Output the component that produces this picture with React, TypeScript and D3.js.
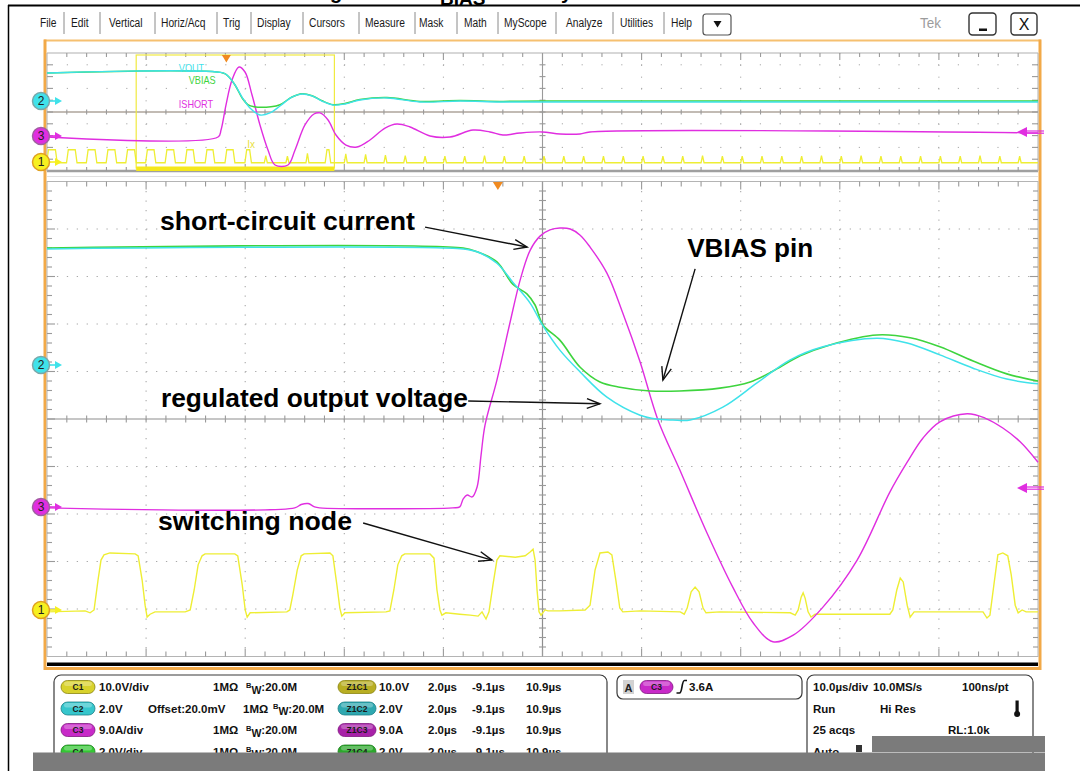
import React from "react";
import * as d3 from "d3";

type P = [number, number];

// ---------- zoom window (main screen): time in µs, amplitude in divisions from centre ----------
const mainVout: P[] = [
  [-9.1, 3.58], [-0.70, 3.58], [-0.42, 3.52], [-0.02, 3.28], [0.30, 2.88], [0.65, 2.44], [0.91, 1.96],
  [1.25, 1.45], [1.66, 0.99], [2.20, 0.46], [2.87, 0.08], [3.20, 0.0], [3.53, -0.02], [3.88, -0.02],
  [4.54, 0.25], [5.23, 0.76], [5.89, 1.24], [6.56, 1.52], [7.65, 1.70], [8.26, 1.60], [8.92, 1.35],
  [9.59, 1.07], [10.27, 0.84], [10.9, 0.74],
];
const mainVbias: P[] = [
  [-9.1, 3.60], [-0.70, 3.60], [-0.42, 3.52], [-0.02, 3.31], [0.30, 2.84], [0.59, 2.63], [0.75, 2.40],
  [0.91, 1.98], [1.25, 1.66], [1.66, 1.09], [2.06, 0.78], [2.46, 0.67], [3.07, 0.59], [3.67, 0.59],
  [4.48, 0.65], [5.09, 0.78], [5.59, 1.03], [6.10, 1.33], [6.70, 1.56], [7.65, 1.77], [8.32, 1.71],
  [8.92, 1.52], [9.59, 1.22], [10.27, 0.95], [10.9, 0.80],
];
const mainIshort: P[] = [
  [-9.1, -1.87], [-4.1, -1.87], [-3.97, -1.80], [-3.83, -1.78], [-3.70, -1.85], [-3.6, -1.87],
  [-0.91, -1.87], [-0.77, -1.85], [-0.70, -1.68], [-0.62, -1.60], [-0.52, -1.64], [-0.42, -1.43],
  [-0.34, -0.76], [-0.26, -0.13], [-0.02, 0.82], [0.24, 2.01], [0.45, 2.93], [0.65, 3.55], [0.85, 3.85],
  [1.05, 3.98], [1.25, 4.02], [1.46, 4.00], [1.66, 3.87], [1.86, 3.62], [2.20, 3.07], [2.52, 2.23],
  [2.87, 1.20], [3.23, -0.02], [3.67, -1.07], [4.22, -2.40], [4.74, -3.54], [5.15, -4.29], [5.55, -4.69],
  [5.96, -4.55], [6.56, -3.96], [7.25, -2.97], [7.91, -1.54], [8.26, -0.91], [8.58, -0.40], [8.92, -0.06],
  [9.47, 0.11], [9.83, 0.02], [10.19, -0.19], [10.54, -0.48], [10.9, -0.91],
];
const mainSw: P[] = [
  [-9.10, -4.06], [-8.33, -4.04], [-8.23, -4.08], [-8.15, -4.02], [-8.07, -3.39], [-8.01, -2.97], [-7.95, -2.86],
  [-7.83, -2.82], [-7.32, -2.84], [-7.26, -2.88], [-7.18, -3.39], [-7.12, -3.92], [-7.08, -4.17], [-7.02, -4.11], [-6.92, -4.06],
  [-6.31, -4.06], [-6.21, -4.02], [-6.13, -3.60], [-6.05, -3.07], [-5.97, -2.88], [-5.91, -2.84], [-5.31, -2.84],
  [-5.25, -2.88], [-5.16, -3.49], [-5.10, -4.02], [-5.06, -4.17], [-5.00, -4.08],
  [-4.26, -4.06], [-4.20, -4.02], [-4.14, -3.71], [-4.05, -3.18], [-3.97, -2.88], [-3.91, -2.84], [-3.39, -2.82],
  [-3.33, -2.88], [-3.25, -3.49], [-3.19, -3.98], [-3.15, -4.15], [-3.09, -4.08],
  [-2.26, -4.06], [-2.18, -4.04], [-2.10, -3.60], [-2.02, -3.07], [-1.94, -2.88], [-1.88, -2.84], [-1.37, -2.84],
  [-1.29, -2.93], [-1.23, -3.60], [-1.17, -4.02], [-1.13, -4.13], [-1.05, -4.08],
  [-0.77, -4.11], [-0.56, -4.13], [-0.40, -4.15], [-0.32, -4.06], [-0.24, -4.21], [-0.18, -4.06], [-0.10, -3.49],
  [-0.02, -2.97], [0.04, -2.88], [0.35, -2.91], [0.55, -2.88], [0.65, -2.80], [0.71, -2.74], [0.75, -2.97],
  [0.79, -3.60], [0.83, -4.06], [0.87, -4.13], [0.95, -4.02],
  [1.01, -4.04], [1.25, -4.04], [1.76, -4.02], [1.86, -3.92], [1.96, -3.18], [2.06, -2.82], [2.22, -2.80],
  [2.30, -2.86], [2.38, -3.39], [2.46, -3.98], [2.52, -4.06], [2.87, -4.04],
  [3.68, -4.06], [3.76, -4.11], [3.82, -3.98], [3.90, -3.64], [3.98, -3.54], [4.06, -3.64], [4.14, -3.98], [4.20, -4.08], [4.48, -4.06],
  [5.90, -4.08], [6.00, -4.13], [6.06, -4.02], [6.12, -3.75], [6.16, -3.66], [6.20, -3.77], [6.26, -4.06], [6.32, -4.17], [6.40, -4.11],
  [7.91, -4.11], [7.97, -4.02], [8.05, -3.60], [8.12, -3.35], [8.18, -3.43], [8.26, -3.92], [8.32, -4.17], [8.40, -4.06],
  [9.79, -4.06], [9.87, -4.19], [9.93, -4.13], [10.01, -3.49], [10.09, -2.86], [10.19, -2.82], [10.29, -2.88],
  [10.36, -3.28], [10.44, -3.92], [10.50, -4.08], [10.58, -4.02], [10.66, -4.06], [10.90, -4.06],
];

// ---------- overview (top strip): time in µs, amplitude in divisions ----------
const topVout: P[] = [
  [-18.1, 3.31], [-0.34, 3.31], [0.16, 3.05], [0.87, 2.29], [1.58, 1.27], [2.38, 0.34], [3.39, -0.25],
  [4.40, -0.08], [5.41, 0.51], [6.62, 1.27], [7.63, 1.53], [8.64, 1.36], [9.65, 0.93], [10.76, 0.59],
  [11.97, 0.68], [13.48, 1.02], [16.21, 1.19], [19.54, 0.85], [23.58, 0.93], [27.61, 0.85], [31.85, 0.85], [81.9, 0.85],
];
const topVbias: P[] = [
  [-18.1, 3.31], [-0.34, 3.31], [0.16, 3.05], [0.87, 2.29], [1.58, 1.2], [2.2, 0.6], [2.8, 0.45], [4.5, 0.45],
  [5.41, 0.62], [6.62, 1.27], [7.63, 1.55], [8.64, 1.38], [9.65, 0.95], [10.76, 0.62], [11.97, 0.72],
  [13.48, 1.05], [16.21, 1.22], [19.54, 0.9], [23.58, 0.97], [27.61, 0.9], [31.85, 0.93], [81.9, 0.93],
];
const topIshort: P[] = [
  [-18.1, -2.12], [-0.84, -2.12], [-0.54, -1.53], [-0.04, 0.59], [0.57, 2.71], [1.27, 3.81], [1.88, 3.39],
  [2.59, 1.44], [3.39, -1.10], [4.20, -3.22], [4.91, -4.49], [6.22, -4.49], [6.93, -3.22], [7.93, -1.10],
  [8.84, -0.17], [9.45, -0.08], [10.26, -0.68], [11.06, -1.95], [12.07, -2.80], [13.18, -2.97], [14.49, -2.37],
  [16.01, -1.36], [17.22, -1.02], [18.53, -1.27], [20.55, -2.03], [22.57, -2.12], [24.89, -1.53], [26.60, -1.69],
  [27.91, -1.95], [29.63, -1.78], [31.85, -1.69], [33.67, -1.86], [35.69, -1.86], [36.69, -1.69], [81.9, -1.78],
];
const topSwLow = -4.3;
const topSwHigh = -3.2;
const topSwPulses: P[] = [
  [-18.05, -17.15], [-16.05, -15.15], [-14.05, -13.15], [-12.05, -11.15], [-10.07, -9.17], [-8.07, -7.2],
  [-6.1, -5.22], [-4.08, -3.25], [-2.06, -1.25], [-0.06, 0.78], [1.95, 2.45], [10.05, 10.45],
];
const topSwSpikes: P[] = [
  [3.98, -3.7], [6.16, -3.75], [8.18, -3.5], [12.05, -3.55], [14.05, -3.6], [16.05, -3.65], [18.05, -3.7],
  [20.05, -3.75], [22.05, -3.75], [24.05, -3.75], [26.05, -3.7], [28.05, -3.75], [30.05, -3.75], [32.05, -3.75],
  [34.05, -3.75], [36.05, -3.75], [38.05, -3.75], [40.05, -3.75], [42.05, -3.75], [44.05, -3.75], [46.05, -3.75],
  [48.05, -3.7], [50.05, -3.75], [52.05, -3.75], [54.05, -3.75], [56.05, -3.75], [58.05, -3.75], [60.05, -3.7],
  [62.05, -3.75], [64.05, -3.7], [66.05, -3.75], [68.05, -3.75], [70.05, -3.75], [72.05, -3.75], [74.05, -3.75],
  [76.05, -3.7], [78.05, -3.75], [80.05, -3.75],
];

// ---------- text content ----------
const menuLabels = ["File", "Edit", "Vertical", "Horiz/Acq", "Trig", "Display", "Cursors", "Measure", "Mask", "Math", "MyScope", "Analyze", "Utilities", "Help"];
const traceLabels = ["VOUT", "VBIAS", "ISHORT"];
const annotations = ["short-circuit current", "VBIAS pin", "regulated output voltage", "switching node"];
const chanBadges = ["C1", "C2", "C3", "C4"];
const chanScale = ["10.0V/div", "2.0V", "9.0A/div", "2.0V/div"];
const zoomBadges = ["Z1C1", "Z1C2", "Z1C3", "Z1C4"];
const zoomScale = ["10.0V", "2.0V", "9.0A", "2.0V"];
const zoomTimes = ["2.0µs", "-9.1µs", "10.9µs"];
const acqRows = [["10.0µs/div", "10.0MS/s", "100ns/pt"], ["Run", "Hi Res", ""], ["25 acqs", "", "RL:1.0k"], ["Auto", "", ""]];

// ---------- layout (not data) ----------
const menuLeft = [40, 71, 109, 161, 223, 257, 309, 365, 419, 464, 504, 566, 620, 671];
const menuSeps = [64, 100, 155, 217, 251, 303, 359, 415, 457, 498, 556, 613, 664];
// annotation anchors in main-window data units (µs, div)
const annText: P[] = [[-6.82, 3.98], [3.82, 3.41], [-6.80, 0.25], [-6.86, -2.34]];
const annWidth = [255, 126, 307, 194];
const annArrows: [P, P][] = [
  [[-1.47, 4.04], [0.59, 3.62]],
  [[3.98, 3.16], [3.33, 0.82]],
  [[-0.60, 0.38], [2.06, 0.32]],
  [[-2.72, -2.19], [-0.12, -2.97]],
];

const CYAN = "#3fe2ea";
const GREEN = "#3ed43e";
const MAGENTA = "#e02ee0";
const YELLOW = "#eeee34";
const ORANGE = "#f2a948";
const FONT = "Arial, 'Liberation Sans', Helvetica, sans-serif";

export default function App() {
  const gx = d3.scaleLinear().domain([0, 10]).range([47, 1038]);
  const gyM = d3.scaleLinear().domain([0, 10]).range([181.5, 656.5]);
  const gyT = d3.scaleLinear().domain([0, 10]).range([53, 171]);
  const xM = d3.scaleLinear().domain([-9.1, 10.9]).range([47, 1038]);
  const yM = d3.scaleLinear().domain([-5, 5]).range([656.5, 181.5]);
  const xT = d3.scaleLinear().domain([-18.1, 81.9]).range([47, 1038]);
  const yT = d3.scaleLinear().domain([-5, 5]).range([171, 53]);

  const smooth = d3.curveCatmullRom.alpha(0.5);
  const smoothM = d3.line<P>().x((d) => xM(d[0])).y((d) => yM(d[1])).curve(smooth);
  const linM = d3.line<P>().x((d) => xM(d[0])).y((d) => yM(d[1]));
  const smoothT = d3.line<P>().x((d) => xT(d[0])).y((d) => yT(d[1])).curve(smooth);
  const linT = d3.line<P>().x((d) => xT(d[0])).y((d) => yT(d[1]));

  // build the overview switching-node trace from the read pulses and spikes
  const swEvents: P[][] = [];
  topSwPulses.forEach(([r, f]) =>
    swEvents.push([[r - 0.08, topSwLow], [r + 0.1, topSwHigh], [f - 0.1, topSwHigh], [f + 0.08, topSwLow]])
  );
  topSwSpikes.forEach(([t, p]) => swEvents.push([[t - 0.15, topSwLow], [t, p], [t + 0.15, topSwLow]]));
  swEvents.sort((a, b) => a[0][0] - b[0][0]);
  const topSw: P[] = [[-18.1, topSwLow], ...swEvents.flat(), [81.9, topSwLow]];

  const minor50 = d3.range(1, 50).map((i) => i / 5);
  const majors = d3.range(1, 10);
  const gridC = "#a8a8a8";
  const tickC = "#9a9a9a";

  const mainGrid: any[] = [];
  majors.filter((k) => k !== 5).forEach((k) => {
    mainGrid.push(<line key={"mh" + k} x1={gx(0)} x2={gx(10)} y1={gyM(k)} y2={gyM(k)} stroke={gridC} strokeWidth={1.1} strokeDasharray="1.3 8.61" />);
    mainGrid.push(<line key={"mv" + k} x1={gx(k)} x2={gx(k)} y1={gyM(0)} y2={gyM(10)} stroke={gridC} strokeWidth={1.1} strokeDasharray="1.3 8.2" />);
  });
  mainGrid.push(<line key="mch" x1={gx(0)} x2={gx(10)} y1={gyM(5)} y2={gyM(5)} stroke="#8e8e8e" strokeWidth={1.2} />);
  mainGrid.push(<line key="mcv" x1={gx(5)} x2={gx(5)} y1={gyM(0)} y2={gyM(10)} stroke="#8e8e8e" strokeWidth={1.2} />);
  mainGrid.push(<rect key="mborder" x={gx(0)} y={gyM(0)} width={gx(10) - gx(0)} height={gyM(10) - gyM(0)} fill="none" stroke="#b4b4b4" strokeWidth={1} />);
  minor50.forEach((u, i) => {
    const major = Number.isInteger(Math.round(u * 1000) / 1000);
    const lx = major ? 8 : 5;
    mainGrid.push(<line key={"tt" + i} x1={gx(u)} x2={gx(u)} y1={gyM(0)} y2={gyM(0) + lx} stroke={tickC} strokeWidth={1.1} />);
    mainGrid.push(<line key={"tb" + i} x1={gx(u)} x2={gx(u)} y1={gyM(10)} y2={gyM(10) - lx} stroke={tickC} strokeWidth={1.1} />);
    mainGrid.push(<line key={"tc" + i} x1={gx(u)} x2={gx(u)} y1={gyM(5) - 3.5} y2={gyM(5) + 3.5} stroke={tickC} strokeWidth={1.1} />);
    mainGrid.push(<line key={"tl" + i} x1={gx(0)} x2={gx(0) + lx} y1={gyM(u)} y2={gyM(u)} stroke={tickC} strokeWidth={1.1} />);
    mainGrid.push(<line key={"tr" + i} x1={gx(10)} x2={gx(10) - lx} y1={gyM(u)} y2={gyM(u)} stroke={tickC} strokeWidth={1.1} />);
    mainGrid.push(<line key={"tv" + i} x1={gx(5) - 3.5} x2={gx(5) + 3.5} y1={gyM(u)} y2={gyM(u)} stroke={tickC} strokeWidth={1.1} />);
  });

  const topGrid: any[] = [];
  [1, 3, 6, 8].forEach((k) =>
    topGrid.push(<line key={"th" + k} x1={gx(0)} x2={gx(10)} y1={gyT(k)} y2={gyT(k)} stroke={gridC} strokeWidth={1} strokeDasharray="1.2 18.6" />)
  );
  majors.filter((k) => k !== 5).forEach((k) =>
    topGrid.push(<line key={"tvg" + k} x1={gx(k)} x2={gx(k)} y1={gyT(0)} y2={gyT(10)} stroke={gridC} strokeWidth={1} strokeDasharray="1.2 10.6" />)
  );
  topGrid.push(<line key="tch" x1={gx(0)} x2={gx(10)} y1={gyT(5)} y2={gyT(5)} stroke="#85786a" strokeWidth={1.1} />);
  topGrid.push(<line key="tcv" x1={gx(5)} x2={gx(5)} y1={gyT(0)} y2={gyT(10)} stroke="#9a9a9a" strokeWidth={1.1} />);
  topGrid.push(<line key="ttop" x1={gx(0)} x2={gx(10)} y1={gyT(0)} y2={gyT(0)} stroke="#b0b0b0" strokeWidth={1.2} />);
  topGrid.push(<line key="tbot" x1={gx(0)} x2={gx(10)} y1={gyT(10)} y2={gyT(10)} stroke="#a0a0a0" strokeWidth={2.4} />);
  topGrid.push(<line key="tlft" x1={gx(0)} x2={gx(0)} y1={gyT(0)} y2={gyT(10)} stroke="#b0b0b0" strokeWidth={1} />);
  topGrid.push(<line key="trgt" x1={gx(10)} x2={gx(10)} y1={gyT(0)} y2={gyT(10)} stroke="#b0b0b0" strokeWidth={1} />);
  minor50.forEach((u, i) => {
    const major = Number.isInteger(Math.round(u * 1000) / 1000);
    const lx = major ? 7 : 4;
    topGrid.push(<line key={"ut" + i} x1={gx(u)} x2={gx(u)} y1={gyT(0)} y2={gyT(0) + lx} stroke={tickC} strokeWidth={1.1} />);
    topGrid.push(<line key={"ub" + i} x1={gx(u)} x2={gx(u)} y1={gyT(10)} y2={gyT(10) - lx} stroke={tickC} strokeWidth={1.1} />);
    topGrid.push(<line key={"uc" + i} x1={gx(u)} x2={gx(u)} y1={gyT(5) - 2.5} y2={gyT(5) + 2.5} stroke={tickC} strokeWidth={1.1} />);
  });
  majors.forEach((k) => {
    topGrid.push(<line key={"ul" + k} x1={gx(0)} x2={gx(0) + 6} y1={gyT(k)} y2={gyT(k)} stroke={tickC} strokeWidth={1.1} />);
    topGrid.push(<line key={"ur" + k} x1={gx(10)} x2={gx(10) - 6} y1={gyT(k)} y2={gyT(k)} stroke={tickC} strokeWidth={1.1} />);
    topGrid.push(<line key={"uv" + k} x1={gx(5) - 3} x2={gx(5) + 3} y1={gyT(k)} y2={gyT(k)} stroke={tickC} strokeWidth={1.1} />);
  });

  const chanMarker = (key: string, label: string, cy: number, fill: string, edge: string, r: number) => (
    <g key={key}>
      <line x1={41 + r} x2={57} y1={cy} y2={cy} stroke={fill} strokeWidth={1.6} />
      <path d={`M55,${cy - 4} L62,${cy} L55,${cy + 4} Z`} fill={fill} />
      <circle cx={41} cy={cy} r={r} fill={fill} stroke={edge} strokeWidth={1.5} />
      <text x={41} y={cy + 4.3} textAnchor="middle" fontFamily={FONT} fontSize={12} fill="#202020">{label}</text>
    </g>
  );
  const rightMarker = (key: string, cy: number) => (
    <g key={key}>
      <line x1={1024} x2={1044} y1={cy - 1} y2={cy - 1} stroke={MAGENTA} strokeWidth={1.2} />
      <line x1={1024} x2={1044} y1={cy + 1.2} y2={cy + 1.2} stroke={MAGENTA} strokeWidth={1.2} />
      <path d={`M1017,${cy} L1027,${cy - 5} L1027,${cy + 5} Z`} fill={MAGENTA} />
    </g>
  );

  const arrow = (key: string, a: P, b: P) => {
    const x1 = xM(a[0]), y1 = yM(a[1]), x2 = xM(b[0]), y2 = yM(b[1]);
    const ang = Math.atan2(y2 - y1, x2 - x1);
    const L = 14, s = 0.36;
    const h1x = x2 - L * Math.cos(ang - s), h1y = y2 - L * Math.sin(ang - s);
    const h2x = x2 - L * Math.cos(ang + s), h2y = y2 - L * Math.sin(ang + s);
    return (
      <g key={key} stroke="#111" strokeWidth={1.4} fill="none">
        <line x1={x1} y1={y1} x2={x2} y2={y2} />
        <polyline points={`${h1x},${h1y} ${x2},${y2} ${h2x},${h2y}`} />
      </g>
    );
  };

  const badge = (key: string, x: number, cy: number, w: number, label: string, fill: string, dark: string) => (
    <g key={key}>
      <rect x={x} y={cy - 6.5} width={w} height={13} rx={6.5} fill={fill} stroke={dark} strokeWidth={0.8} />
      <rect x={x + 3} y={cy - 5.5} width={w - 6} height={4.5} rx={2.2} fill="#ffffff" opacity={0.28} />
      <text x={x + w / 2} y={cy + 3} textAnchor="middle" fontFamily={FONT} fontSize={8.5} fontWeight="bold" fill="#1a1a1a">{label}</text>
    </g>
  );
  const badgeFill = ["#d8d22c", "#36c6cc", "#c82ac8", "#34c834"];
  const badgeDark = ["#8a8410", "#1c8088", "#801880", "#1c801c"];
  const zoomFill = ["#b8ae22", "#2ea8b0", "#a822a8", "#2ca82c"];
  const rowCy = [687, 708.5, 730, 751.5];
  const bw = (x: number, y: number, key: string) => (
    <text key={key} x={x} y={y} fontFamily={FONT} fontSize={11.5} fontWeight="bold" fill="#111">
      <tspan fontSize={7.5} dy={-3.5}>B</tspan>
      <tspan fontSize={10.5} dy={6}>W</tspan>
      <tspan fontSize={11.5} dy={-2.5}>:20.0M</tspan>
    </text>
  );
  const info = (key: string, x: number, y: number, s: string) => (
    <text key={key} x={x} y={y} fontFamily={FONT} fontSize={11.5} fontWeight="bold" fill="#111">{s}</text>
  );

  const infoEls: any[] = [];
  chanBadges.forEach((c, i) => {
    const cy = rowCy[i];
    const by = cy + 4;
    infoEls.push(badge("cb" + i, 61, cy, 34, c, badgeFill[i], badgeDark[i]));
    infoEls.push(info("cs" + i, 99, by, chanScale[i]));
    if (i === 1) {
      infoEls.push(info("off", 148, by, "Offset:20.0mV"));
      infoEls.push(info("mo" + i, 243, by, "1MΩ"));
      infoEls.push(bw(273, by, "bw" + i));
    } else {
      infoEls.push(info("mo" + i, 213, by, "1MΩ"));
      infoEls.push(bw(246, by, "bw" + i));
    }
    infoEls.push(badge("zb" + i, 338, cy, 38, zoomBadges[i], zoomFill[i], badgeDark[i]));
    infoEls.push(info("zs" + i, 379, by, zoomScale[i]));
    infoEls.push(info("z1" + i, 428, by, zoomTimes[0]));
    infoEls.push(info("z2" + i, 472, by, zoomTimes[1]));
    infoEls.push(info("z3" + i, 526, by, zoomTimes[2]));
  });
  const acqX = [[813, 873, 962], [813, 880, 0], [813, 0, 948], [813, 0, 0]];
  acqRows.forEach((row, i) => {
    const by = rowCy[i] + 4;
    row.forEach((s, j) => {
      if (!s) return;
      infoEls.push(info("a" + i + j, acqX[i][j], by, s));
    });
  });

  return (
    <svg width={1080} height={771} viewBox="0 0 1080 771" style={{ position: "absolute", left: 0, top: 0, background: "#fff" }}>
      <rect x={0} y={0} width={1080} height={771} fill="#ffffff" />

      {/* cut-off caption above the frame (only its lower edge is visible in the source) */}
      <g fontFamily={FONT} fontWeight="bold" fill="#000">
        <text x={330} y={-1} fontSize={20}>g</text>
        <text x={440} y={4.5} fontSize={19}>BIAS</text>
        <text x={561} y={-1} fontSize={20}>y</text>
      </g>
      <line x1={8} x2={1080} y1={5.5} y2={5.5} stroke="#000" strokeWidth={2} />
      <line x1={8.5} x2={8.5} y1={5} y2={771} stroke="#000" strokeWidth={1.5} />

      {/* menu bar */}
      {menuLabels.map((m, i) => (
        <text key={m} transform={`translate(${menuLeft[i]},27) scale(0.82,1)`} fontFamily={FONT} fontSize={12.5} fill="#1a1a1a">{m}</text>
      ))}
      {menuSeps.map((x, i) => (
        <line key={"sep" + i} x1={x} x2={x} y1={12} y2={34} stroke="#8a8a8a" strokeWidth={1} />
      ))}
      <rect x={703} y={14} width={28} height={21} rx={3} fill="#fff" stroke="#555" strokeWidth={1.2} />
      <path d="M713.5,21 L721.5,21 L717.5,27.5 Z" fill="#111" />
      <text transform="translate(920,28) scale(0.9,1)" fontFamily={FONT} fontSize={15} fill="#9c9c9c">Tek</text>
      <rect x={969} y={13} width={27} height={22} rx={3.5} fill="#fff" stroke="#333" strokeWidth={1.4} />
      <rect x={979} y={28.5} width={8} height={2.5} fill="#111" />
      <rect x={1011} y={13} width={26} height={22} rx={3.5} fill="#fff" stroke="#333" strokeWidth={1.4} />
      <text x={1024} y={29.5} textAnchor="middle" fontFamily={FONT} fontSize={16} fill="#111">X</text>

      {/* orange screen frame */}
      <line x1={44} x2={1041} y1={40.5} y2={40.5} stroke="#f6c070" strokeWidth={2} />
      <line x1={45} x2={45} y1={39.5} y2={670} stroke={ORANGE} strokeWidth={3} />
      <line x1={1040} x2={1040} y1={39.5} y2={670} stroke={ORANGE} strokeWidth={3} />
      <line x1={44} x2={1041} y1={668.5} y2={668.5} stroke={ORANGE} strokeWidth={3} />
      <line x1={47} x2={1038} y1={176.5} y2={176.5} stroke="#e0e0e0" strokeWidth={1} />

      {/* overview strip */}
      {topGrid}
      <rect x={xT(-9.1)} y={55} width={xT(10.9) - xT(-9.1)} height={113} fill="none" stroke="#f0ea40" strokeWidth={1.2} />
      <rect x={xT(-9.1)} y={166.5} width={xT(10.9) - xT(-9.1)} height={4.5} fill="#f5e81c" />
      <path d={linT(topSw) || ""} fill="none" stroke={YELLOW} strokeWidth={1.3} />
      <path d={smoothT(topIshort) || ""} fill="none" stroke={MAGENTA} strokeWidth={1.4} />
      <path d={smoothT(topVbias) || ""} fill="none" stroke={GREEN} strokeWidth={1.5} />
      <path d={smoothT(topVout) || ""} fill="none" stroke={CYAN} strokeWidth={1.4} />
      <path d={`M${xT(0) - 4.5},55 L${xT(0) + 4.5},55 L${xT(0)},62.5 Z`} fill="#f08a20" />
      <text transform={`translate(${xT(-4.8)},71.5) scale(0.87,1)`} fontFamily={FONT} fontSize={10.5} fill={CYAN}>{traceLabels[0]}</text>
      <text transform={`translate(${xT(-3.8)},84) scale(0.87,1)`} fontFamily={FONT} fontSize={10.5} fill={GREEN}>{traceLabels[1]}</text>
      <text transform={`translate(${xT(-4.8)},108) scale(0.87,1)`} fontFamily={FONT} fontSize={10.5} fill={MAGENTA}>{traceLabels[2]}</text>
      <text x={xT(2.1)} y={148} fontFamily={FONT} fontSize={10} fill="#e8e040">Ix</text>
      {chanMarker("t2", "2", 101, CYAN, "#7aa8aa", 8.5)}
      {chanMarker("t3", "3", 136, MAGENTA, "#a060a0", 8.5)}
      {chanMarker("t1", "1", 162, "#f6f020", "#e0a020", 8.5)}
      {rightMarker("tr", 132)}

      {/* main zoom window */}
      {mainGrid}
      <rect x={47} y={662.5} width={991} height={3.5} fill="#000" />
      <path d={linM(mainSw) || ""} fill="none" stroke={YELLOW} strokeWidth={1.4} />
      <path d={smoothM(mainIshort) || ""} fill="none" stroke={MAGENTA} strokeWidth={1.4} />
      <path d={smoothM(mainVbias) || ""} fill="none" stroke={GREEN} strokeWidth={1.6} />
      <path d={smoothM(mainVout) || ""} fill="none" stroke={CYAN} strokeWidth={1.5} />
      <path d={`M${xM(0) - 5},182 L${xM(0) + 5},182 L${xM(0)},190 Z`} fill="#f08a20" />
      {chanMarker("m2", "2", 365, CYAN, "#7aa8aa", 8.5)}
      {chanMarker("m3", "3", 507, MAGENTA, "#a060a0", 8.5)}
      {chanMarker("m1", "1", 610, "#f6f020", "#e0a020", 8.5)}
      {rightMarker("mr", 488)}

      {/* annotations */}
      {annotations.map((s, i) => (
        <text key={"ann" + i} x={xM(annText[i][0])} y={yM(annText[i][1])} fontFamily={FONT} fontWeight="bold" fontSize={26}
          textLength={annWidth[i]} lengthAdjust="spacingAndGlyphs" fill="#000">{s}</text>
      ))}
      {annArrows.map((a, i) => arrow("arr" + i, a[0], a[1]))}

      {/* readout panels */}
      <rect x={54} y={675} width={553} height={110} rx={7} fill="#fff" stroke="#3a3a3a" strokeWidth={1.2} />
      <rect x={617} y={675} width={185} height={24} rx={6} fill="#fff" stroke="#3a3a3a" strokeWidth={1.2} />
      <rect x={807} y={675} width={226} height={110} rx={7} fill="#fff" stroke="#3a3a3a" strokeWidth={1.2} />
      {infoEls}
      <rect x={623} y={680} width={11} height={14} fill="#d2d2d2" />
      <text x={624.5} y={691.5} fontFamily={FONT} fontSize={11} fontWeight="bold" fill="#222">A</text>
      {badge("trg", 640, 687, 33, "C3", badgeFill[2], badgeDark[2])}
      <path d="M676.5,693 L679.5,693 C682.5,693 681.5,680.5 684.5,680.5 L687,680.5" fill="none" stroke="#111" strokeWidth={1.6} />
      {info("lvl", 689, 691, "3.6A")}
      <rect x={1015.5} y={700.5} width={3.2} height={12} fill="#111" />
      <circle cx={1017.1} cy={714} r={3} fill="#111" />
      <rect x={856} y={745} width={6} height={7} fill="#333" />
      <rect x={872} y={736} width={173} height={16} fill="#7b7b7b" />
      <rect x={33} y={752.5} width={1012} height={18.5} fill="#7b7b7b" />
    </svg>
  );
}
